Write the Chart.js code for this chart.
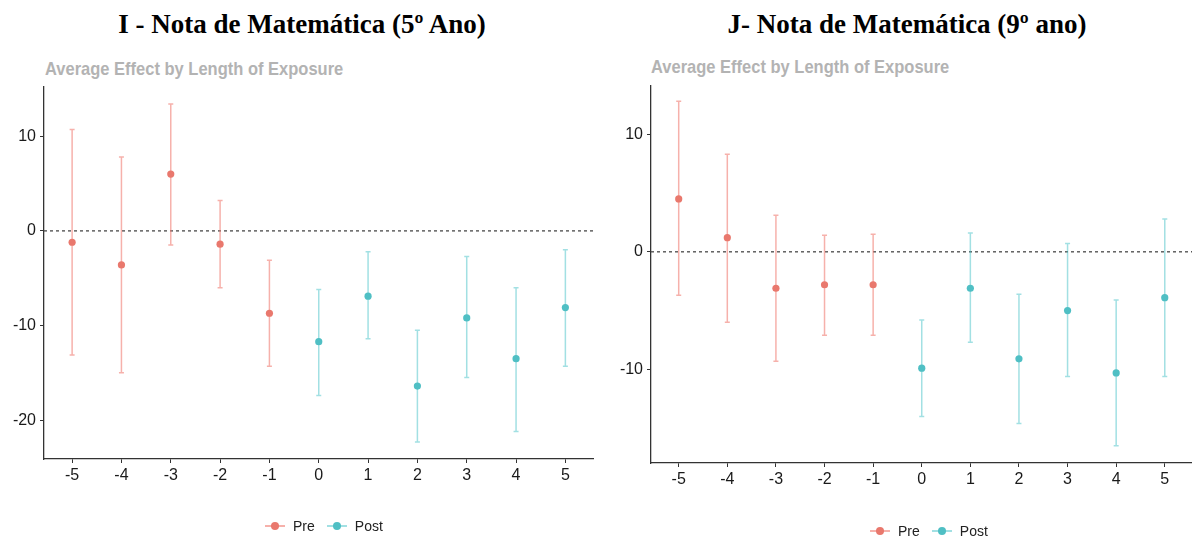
<!DOCTYPE html>
<html>
<head>
<meta charset="utf-8">
<script src="https://cdn.jsdelivr.net/npm/chart.js@4.4.1/dist/chart.umd.min.js"></script>
<style>
  body{margin:0;background:#fff;width:1192px;height:537px;overflow:hidden;position:relative;font-family:"Liberation Sans",Arial,sans-serif}
  .titulo{position:absolute;top:9px;font-family:"Liberation Serif","Times New Roman",serif;font-weight:bold;font-size:27px;color:#000;white-space:nowrap;transform:translateX(-50%)}
  .sub{position:absolute;font-weight:bold;font-size:16.5px;color:#b3b3b3;white-space:nowrap;transform:scaleY(1.12);transform-origin:left center}
  .box{position:absolute;top:0}
  .leg{position:absolute;font-size:14px;color:#222;display:flex;align-items:center;white-space:nowrap}
  .mk{position:relative;width:20px;height:2px;margin-right:8px}
  .mk i{position:absolute;left:6px;top:-3px;width:8px;height:8px;border-radius:50%}
  .leg span{margin-right:12px}
</style>
</head>
<body>
<div class="titulo" style="left:302px">I - Nota de Matemática (5º Ano)</div>
<div class="titulo" style="left:907px">J- Nota de Matemática (9º ano)</div>
<div class="sub" style="left:45px;top:59px">Average Effect by Length of Exposure</div>
<div class="sub" style="left:651px;top:57px">Average Effect by Length of Exposure</div>

<div class="box" style="left:0;width:598px;height:537px"><canvas id="g5" width="598" height="537"></canvas></div>
<div class="box" style="left:600px;width:604px;height:537px"><canvas id="g9" width="604" height="537"></canvas></div>

<div class="leg" id="leg5" style="left:265px;top:518px"></div>
<div class="leg" id="leg9" style="left:870px;top:523px"></div>

<script>
// periodos relativos ao tratamento
const periodos = [-5,-4,-3,-2,-1,0,1,2,3,4,5];
const xTicks = [-5,-4,-3,-2,-1,0,1,2,3,4,5];
const series = ['Pre','Post'];

// I - 5º ano
const est5 = [-1.2,-3.6,6.0,-1.4,-8.7,-11.7,-6.9,-16.4,-9.2,-13.5,-8.1];
const lo5  = [-13.1,-15.0,-1.5,-6.0,-14.3,-17.4,-11.4,-22.3,-15.5,-21.2,-14.3];
const hi5  = [10.7,7.8,13.4,3.2,-3.1,-6.2,-2.2,-10.5,-2.7,-6.0,-2.0];
const yTicks5 = [-20,-10,0,10];

// J - 9º ano
const est9 = [4.5,1.2,-3.1,-2.8,-2.8,-9.9,-3.1,-9.1,-5.0,-10.3,-3.9];
const lo9  = [-3.7,-6.0,-9.3,-7.1,-7.1,-14.0,-7.7,-14.6,-10.6,-16.5,-10.6];
const hi9  = [12.8,8.3,3.1,1.4,1.5,-5.8,1.6,-3.6,0.7,-4.1,2.8];
const yTicks9 = [-10,0,10];

const corPonto = {Pre:'#e9786d', Post:'#4fbfc4'};
const corBarra = {Pre:'rgba(240,120,110,0.58)', Post:'rgba(60,190,196,0.48)'};

const barrasErro = {
  id:'barrasErro',
  beforeDatasetsDraw(chart){
    const {ctx, chartArea:a, scales:{x,y}} = chart;
    ctx.save();
    // linha do zero
    const y0 = y.getPixelForValue(0);
    ctx.setLineDash([3,3]);
    ctx.strokeStyle = '#555';
    ctx.lineWidth = 1.4;
    ctx.beginPath(); ctx.moveTo(a.left, y0); ctx.lineTo(a.right, y0); ctx.stroke();
    ctx.setLineDash([]);
    chart.data.datasets.forEach(ds=>{
      ctx.strokeStyle = corBarra[ds.label];
      ctx.lineWidth = 1.5;
      ds.data.forEach(p=>{
        const px = x.getPixelForValue(p.x);
        const t = y.getPixelForValue(p.hi), b = y.getPixelForValue(p.lo);
        ctx.beginPath();
        ctx.moveTo(px, t); ctx.lineTo(px, b);
        ctx.moveTo(px-2.5, t); ctx.lineTo(px+2.5, t);
        ctx.moveTo(px-2.5, b); ctx.lineTo(px+2.5, b);
        ctx.stroke();
      });
    });
    ctx.restore();
  }
};

function montar(id, est, lo, hi, yTicks, yMin, yMax, yLarg, pad){
  const pts = periodos.map((p,i)=>({x:p, y:est[i], lo:lo[i], hi:hi[i]}));
  const datasets = series.map(s=>({
    label:s,
    data: pts.filter(d => s==='Pre' ? d.x<0 : d.x>=0),
    backgroundColor: corPonto[s],
    borderColor: corPonto[s],
    pointRadius: 3.6,
    pointBorderWidth: 0,
    showLine:false
  }));
  const fonte = {family:'"Liberation Sans", Arial, sans-serif', size:16};
  return new Chart(document.getElementById(id), {
    type:'scatter',
    data:{datasets},
    plugins:[barrasErro],
    options:{
      responsive:false,
      animation:false,
      layout:{padding:pad},
      plugins:{legend:{display:false}, tooltip:{enabled:false}},
      scales:{
        x:{
          type:'linear', min:-5.57, max:5.56,
          afterBuildTicks: sc => { sc.ticks = xTicks.map(v=>({value:v})); },
          afterFit: sc => { sc.height = 28; },
          border:{display:true, color:'#333', width:1.3},
          grid:{drawOnChartArea:false, drawTicks:true, tickLength:4, color:'#333'},
          ticks:{color:'#1a1a1a', font:fonte, padding:3, maxRotation:0}
        },
        y:{
          min:yMin, max:yMax,
          afterBuildTicks: sc => { sc.ticks = yTicks.map(v=>({value:v})); },
          afterFit: sc => { sc.width = yLarg; },
          border:{display:true, color:'#333', width:1.3},
          grid:{drawOnChartArea:false, drawTicks:true, tickLength:4, color:'#333'},
          ticks:{color:'#1a1a1a', font:fonte, padding:4}
        }
      }
    }
  });
}

montar('g5', est5, lo5, hi5, yTicks5, -24.1, 15.2, 44, {top:87, left:0, right:5, bottom:50});
montar('g9', est9, lo9, hi9, yTicks9, -17.96, 14.1, 51, {top:86, left:0, right:12, bottom:46});

// legenda
['leg5','leg9'].forEach(id=>{
  const el = document.getElementById(id);
  series.forEach(s=>{
    const mk = document.createElement('div');
    mk.className = 'mk';
    mk.style.background = corBarra[s];
    const dot = document.createElement('i');
    dot.style.background = corPonto[s];
    mk.appendChild(dot);
    const tx = document.createElement('span');
    tx.textContent = s;
    el.appendChild(mk); el.appendChild(tx);
  });
});
</script>
</body>
</html>
